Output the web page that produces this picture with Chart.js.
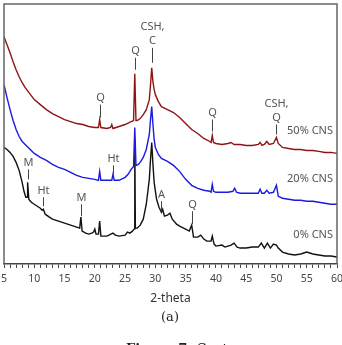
<!DOCTYPE html>
<html>
<head>
<meta charset="utf-8">
<script src="https://cdn.jsdelivr.net/npm/chart.js@4"></script>
<style>
  html, body { margin: 0; padding: 0; background: #fff; }
  #wrap { width: 342px; height: 345px; position: relative; }
</style>
</head>
<body>
<div id="wrap"><canvas id="xrdChart"></canvas></div>
<script>
// 2-theta positions and intensities (arbitrary units)
const cns50Theta = [5, 5.5, 6, 6.5, 7, 7.5, 8, 8.5, 9, 9.5, 10, 11, 12, 13, 14, 15, 16, 17, 18, 19, 20, 20.6, 20.8, 21, 22, 22.6, 22.8, 23, 24, 25, 26, 26.4, 26.6, 26.8, 27, 27.5, 28, 28.5, 29, 29.2, 29.4, 29.6, 29.8, 30, 30.5, 31, 32, 33, 34, 35, 36, 37, 38, 39, 39.2, 39.4, 39.6, 40, 41, 42, 42.5, 43, 44, 45, 46, 47, 47.3, 47.6, 48, 48.4, 48.8, 49.5, 50, 50.3, 51, 52, 53, 54, 55, 56, 57, 58, 59, 60];
const cns50Counts = [228, 220, 212, 203, 195, 188, 182, 177, 173, 169, 165, 160, 155, 151, 148, 145, 143, 141, 140, 138, 137, 137, 145, 137, 136, 137, 140, 136, 138, 140, 143, 144, 191, 144, 144, 146, 150, 155, 165, 180, 197, 183, 175, 170, 163, 158, 155, 152, 147, 141, 135, 131, 126, 123, 122, 129, 122, 121, 120, 121, 122, 120, 120, 119, 119, 120, 122, 119, 120, 123, 120, 121, 127, 121, 117, 116, 115, 115, 114, 114, 113, 112, 112, 111];

const cns20Theta = [5, 5.5, 6, 6.5, 7, 7.5, 8, 8.5, 9, 9.5, 10, 11, 12, 13, 14, 15, 16, 17, 18, 19, 20, 20.6, 20.8, 21, 22, 22.8, 23, 23.2, 24, 25, 25.5, 26, 26.4, 26.6, 26.8, 27.2, 27.6, 28, 28.5, 29, 29.2, 29.4, 29.6, 29.8, 30, 30.5, 31, 32, 33, 34, 35, 36, 37, 38, 39, 39.2, 39.4, 39.6, 40, 41, 42, 42.8, 43.1, 43.4, 44, 45, 46, 47, 47.3, 47.6, 48, 48.4, 48.8, 49.5, 50, 50.3, 51, 52, 53, 54, 55, 56, 57, 58, 59, 60];
const cns20Counts = [180, 167, 155, 144, 135, 128, 123, 120, 117, 114, 111, 107, 104, 100, 97, 95, 92, 89, 87, 86, 85, 84, 93, 84, 84, 84, 90, 84, 84, 87, 90, 95, 98, 137, 99, 100, 103, 107, 115, 130, 145, 158, 140, 125, 117, 110, 106, 103, 99, 93, 85, 79, 76, 74, 73, 72, 80, 73, 72, 72, 72, 73, 76, 72, 71, 71, 71, 71, 75, 71, 71, 74, 71, 72, 79, 68, 66, 65, 64, 64, 63, 63, 62, 61, 60, 60];

const cns0Theta = [5, 5.5, 6, 6.5, 7, 7.5, 8, 8.3, 8.6, 8.8, 8.9, 9.1, 9.5, 10, 10.5, 11, 11.3, 11.5, 11.8, 12.5, 13, 14, 15, 16, 17, 17.5, 17.7, 17.9, 18.5, 19, 19.5, 19.8, 20, 20.2, 20.6, 20.8, 21, 22, 23, 23.4, 24, 25, 25.4, 25.8, 26.2, 26.5, 26.6, 26.7, 27, 27.5, 28, 28.5, 29, 29.2, 29.4, 29.6, 29.8, 30.2, 30.6, 31, 31.2, 31.5, 32, 32.4, 32.8, 33.5, 34, 35, 35.6, 36, 36.3, 37, 37.5, 38, 38.5, 39.2, 39.4, 39.7, 40, 41, 41.5, 42, 42.5, 43, 43.5, 44, 45, 46, 47, 47.5, 48, 48.5, 49, 49.5, 50, 50.3, 51, 52, 53, 54, 55, 56, 57, 58, 59, 60];
const cns0Counts = [117, 115, 112, 108, 102, 94, 82, 73, 67, 67, 82, 65, 62, 60, 58, 56, 54, 55, 50, 47, 45, 43, 41, 39, 37, 36, 47, 33, 31, 30, 31, 32, 35, 30, 30, 43, 28, 28, 31, 29, 28, 29, 32, 31, 33, 35, 125, 36, 36, 39, 45, 60, 85, 105, 122, 100, 82, 65, 57, 52, 55, 48, 49, 51, 45, 40, 38, 35, 33, 39, 27, 27, 29, 25, 23, 23, 28, 20, 18, 19, 17, 18, 19, 21, 17, 16, 16, 17, 17, 21, 16, 21, 16, 20, 19, 16, 12, 10, 9, 10, 12, 10, 9, 8, 8, 7];

// phase markers: text, 2-theta, marker line from/to (intensity units)
const peakLabels = ['CSH,\nC', 'Q', 'Q', 'Q', 'CSH,\nQ', 'Ht', 'M', 'Ht', 'M', 'A', 'Q'];
const peakTheta = [29.4, 26.6, 20.8, 39.4, 50.0, 23.0, 8.9, 11.5, 17.7, 31.0, 36.0];
const peakLineTop = [217, 207, 160, 145, 140, 99, 95, 67, 60, 63, 53];
const peakLineBottom = [202, 195, 147, 133, 130, 90, 85, 58, 48, 53, 40];

const seriesNames = ['50% CNS', '20% CNS', '0% CNS'];
const seriesNameLevel = [134, 85, 29];

const toPoints = (xs, ys) => xs.map((x, i) => ({ x: x, y: ys[i] }));

const markerPlugin = {
    id: 'markers',
    afterDatasetsDraw(chart) {
        const { ctx, chartArea, scales: { x, y } } = chart;
        ctx.save();
        ctx.strokeStyle = '#444';
        ctx.lineWidth = 1;
        ctx.fillStyle = '#555';
        ctx.font = '11px "Noto Sans", sans-serif';
        ctx.textAlign = 'center';
        ctx.textBaseline = 'bottom';
        peakLabels.forEach((label, i) => {
            const px = Math.round(x.getPixelForValue(peakTheta[i])) + 0.5;
            const yTop = y.getPixelForValue(peakLineTop[i]);
            const yBot = y.getPixelForValue(peakLineBottom[i]);
            ctx.beginPath();
            ctx.moveTo(px, yTop);
            ctx.lineTo(px, yBot);
            ctx.stroke();
            const lines = label.split('\n');
            lines.forEach((t, j) => {
                ctx.fillText(t, px, yTop - 1 - (lines.length - 1 - j) * 14);
            });
        });
        ctx.textAlign = 'right';
        ctx.textBaseline = 'middle';
        seriesNames.forEach((name, i) => {
            ctx.fillText(name, chartArea.right - 4, y.getPixelForValue(seriesNameLevel[i]));
        });

        // frame
        ctx.strokeStyle = '#666';
        ctx.lineWidth = 1.5;
        ctx.beginPath();
        ctx.moveTo(chartArea.left, chartArea.bottom);
        ctx.lineTo(chartArea.left, chartArea.top);
        ctx.lineTo(chartArea.right, chartArea.top);
        ctx.lineTo(chartArea.right, chartArea.bottom);
        ctx.stroke();

        // caption under the plot
        ctx.fillStyle = '#222';
        ctx.textAlign = 'center';
        ctx.textBaseline = 'middle';
        ctx.font = '13px "DejaVu Serif", serif';
        ctx.fillText('(a)', 170, 318);
        ctx.textAlign = 'left';
        ctx.textBaseline = 'alphabetic';
        ctx.font = 'bold 13px "DejaVu Serif", serif';
        ctx.fillText('Figure 7.', 126, 353);
        const w = ctx.measureText('Figure 7. ').width;
        ctx.font = '13px "DejaVu Serif", serif';
        ctx.fillText('Cont.', 126 + w, 353);
        ctx.restore();
    }
};

const lineStyle = (colour) => ({
    borderColor: colour,
    borderWidth: 1.4,
    pointRadius: 0,
    tension: 0,
    fill: false
});

new Chart(document.getElementById('xrdChart'), {
    type: 'line',
    data: {
        datasets: [
            { label: seriesNames[0], data: toPoints(cns50Theta, cns50Counts), ...lineStyle('#8e1414') },
            { label: seriesNames[1], data: toPoints(cns20Theta, cns20Counts), ...lineStyle('#1a1ae0') },
            { label: seriesNames[2], data: toPoints(cns0Theta, cns0Counts), ...lineStyle('#111111') }
        ]
    },
    options: {
        animation: false,
        responsive: true,
        maintainAspectRatio: false,
        layout: { padding: { left: 4, right: 5, top: 4, bottom: 39 } },
        scales: {
            x: {
                type: 'linear',
                min: 5,
                max: 60,
                afterFit: scale => {
                    // let the end labels hang over the edges like the original
                    scale.paddingLeft = 0;
                    scale.paddingRight = 0;
                },
                ticks: {
                    stepSize: 1,
                    autoSkip: false,
                    maxRotation: 0,
                    padding: 5,
                    color: '#444',
                    font: { family: '"Noto Sans", sans-serif', size: 10.5 },
                    callback: value => (value % 5 === 0 ? String(value) : '')
                },
                grid: {
                    drawOnChartArea: false,
                    drawTicks: true,
                    tickLength: 4,
                    tickColor: '#444'
                },
                border: { display: true, color: '#444', width: 1.5 },
                title: {
                    display: true,
                    text: '2-theta',
                    color: '#333',
                    font: { family: '"Noto Sans", sans-serif', size: 12 },
                    padding: { top: 1, bottom: 0 }
                }
            },
            y: {
                display: false,
                min: 0,
                max: 261
            }
        },
        plugins: {
            legend: { display: false },
            tooltip: { enabled: false }
        }
    },
    plugins: [markerPlugin]
});
</script>
</body>
</html>
